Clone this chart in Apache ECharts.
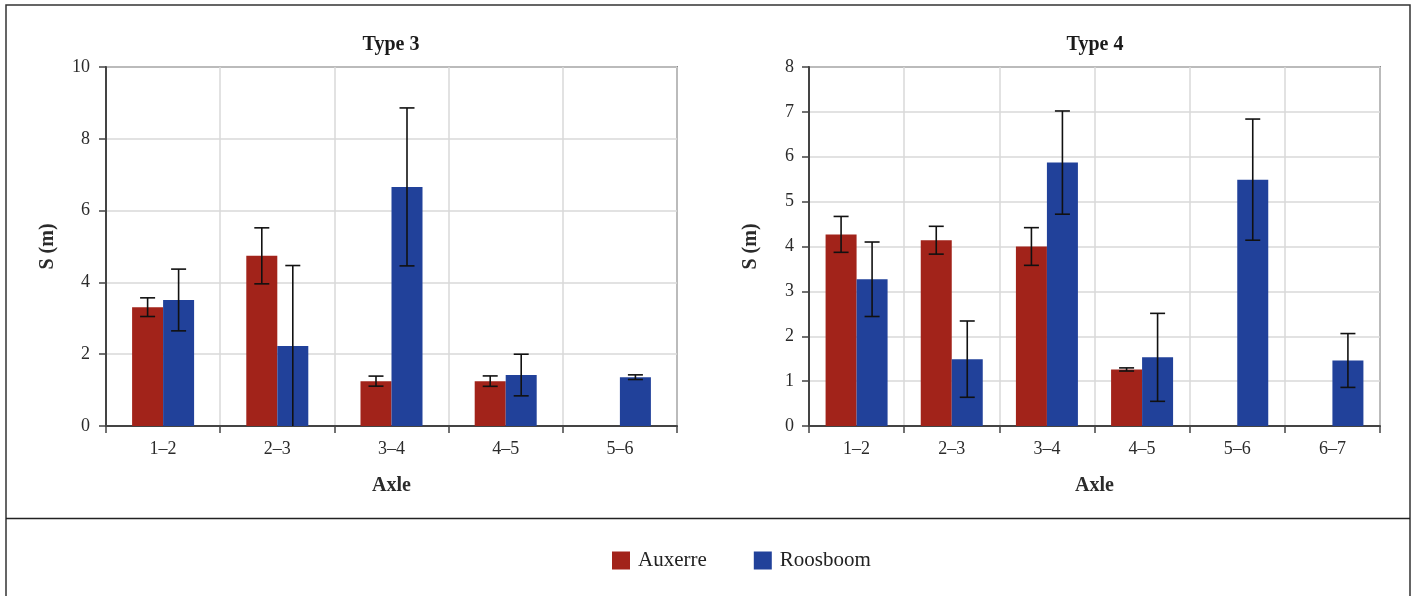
<!DOCTYPE html>
<html>
<head>
<meta charset="utf-8">
<title>Type 3 / Type 4 — S (m) by axle</title>
<script src="https://cdn.jsdelivr.net/npm/echarts@6/dist/echarts.min.js"></script>
<style>
  html, body { margin: 0; padding: 0; background: #ffffff; }
  #chart { width: 1416px; height: 596px; }
</style>
</head>
<body>
<div id="chart"></div>
<script>
// Axle spacing S (m), mean with ± error, per truck type
const categoriesType3 = ['1–2', '2–3', '3–4', '4–5', '5–6'];
const auxerreType3 = [3.31, 4.74, 1.25, 1.25, null];
const auxerreType3Err = [0.26, 0.78, 0.14, 0.145, null];
const roosboomType3 = [3.51, 2.23, 6.66, 1.42, 1.36];
const roosboomType3Err = [0.86, 2.24, 2.20, 0.58, 0.065];

const categoriesType4 = ['1–2', '2–3', '3–4', '4–5', '5–6', '6–7'];
const auxerreType4 = [4.27, 4.14, 4.00, 1.26, null, null];
const auxerreType4Err = [0.40, 0.31, 0.42, 0.035, null, null];
const roosboomType4 = [3.27, 1.49, 5.87, 1.53, 5.49, 1.46];
const roosboomType4Err = [0.83, 0.85, 1.15, 0.98, 1.35, 0.60];

const yTicksType3 = { min: 0, max: 10, interval: 2 };
const yTicksType4 = { min: 0, max: 8, interval: 1 };

const seriesNames = ['Auxerre', 'Roosboom'];
const RED = '#a2231a';
const BLUE = '#21419a';
const BAR_WIDTH = 31;
const FONT = '"Liberation Serif", "DejaVu Serif", serif';
const TEXT = '#2b2b2b';

// error-bar items: [categoryIndex, value, err, slot]
function errorData(values, errs, slot) {
  const out = [];
  values.forEach((v, i) => {
    if (v != null && errs[i] != null) out.push([i, v, errs[i], slot]);
  });
  return out;
}

// vertical whisker with caps; the lower cap is dropped when the range reaches the axis
function renderErrorBar(params, api) {
  const cat = api.value(0);
  const v = api.value(1);
  const e = api.value(2);
  const slot = api.value(3);
  const xc = api.coord([cat, 0])[0] + (slot === 0 ? -BAR_WIDTH / 2 : BAR_WIDTH / 2);
  const lowVal = Math.max(0, v - e);
  const yHi = api.coord([cat, v + e])[1];
  const yLo = api.coord([cat, lowVal])[1];
  const cap = 7.5;
  const style = { stroke: '#111', lineWidth: 1.6 };
  const children = [
    { type: 'line', shape: { x1: xc, y1: yHi, x2: xc, y2: yLo }, style },
    { type: 'line', shape: { x1: xc - cap, y1: yHi, x2: xc + cap, y2: yHi }, style }
  ];
  if (v - e > 0) {
    children.push({ type: 'line', shape: { x1: xc - cap, y1: yLo, x2: xc + cap, y2: yLo }, style });
  }
  return { type: 'group', children };
}

function xAxisFor(cats, gridIndex) {
  return {
    type: 'category',
    gridIndex,
    data: cats,
    name: 'Axle',
    nameLocation: 'middle',
    nameGap: 50,
    nameTextStyle: { fontFamily: FONT, fontSize: 20, fontWeight: 'bold', color: TEXT },
    axisLine: { show: true, lineStyle: { color: '#444', width: 2 } },
    axisTick: { show: true, length: 7, lineStyle: { color: '#444', width: 1.5 } },
    axisLabel: { margin: 14, fontFamily: FONT, fontSize: 18, color: TEXT },
    splitLine: { show: true, lineStyle: { color: '#d8d8d8', width: 1.5 } }
  };
}

function yAxisFor(ticks, gridIndex, nameGap, labelMargin) {
  return {
    type: 'value',
    gridIndex,
    min: ticks.min,
    max: ticks.max,
    interval: ticks.interval,
    name: 'S (m)',
    nameLocation: 'middle',
    nameGap,
    nameTextStyle: { fontFamily: FONT, fontSize: 20, fontWeight: 'bold', color: TEXT },
    axisLine: { show: true, lineStyle: { color: '#444', width: 2 } },
    axisTick: { show: true, length: 7, lineStyle: { color: '#444', width: 1.5 } },
    axisLabel: { margin: labelMargin, fontFamily: FONT, fontSize: 18, color: TEXT },
    splitLine: { show: true, lineStyle: { color: '#d8d8d8', width: 1.5 } }
  };
}

function barSeries(name, data, color, idx) {
  return {
    type: 'bar',
    name,
    xAxisIndex: idx,
    yAxisIndex: idx,
    data,
    barWidth: BAR_WIDTH,
    barGap: '0%',
    itemStyle: { color },
    z: 2
  };
}

function errSeries(name, data, idx) {
  return {
    type: 'custom',
    name,
    xAxisIndex: idx,
    yAxisIndex: idx,
    data,
    renderItem: renderErrorBar,
    z: 5,
    silent: true
  };
}

const chart = echarts.init(document.getElementById('chart'), null, { renderer: 'canvas' });

chart.setOption({
  animation: false,
  backgroundColor: '#ffffff',
  title: [
    { text: 'Type 3', left: 391, top: 35, padding: 0, textAlign: 'center',
      textStyle: { fontFamily: FONT, fontSize: 20, fontWeight: 'bold', color: '#1a1a1a' } },
    { text: 'Type 4', left: 1095, top: 35, padding: 0, textAlign: 'center',
      textStyle: { fontFamily: FONT, fontSize: 20, fontWeight: 'bold', color: '#1a1a1a' } }
  ],
  legend: {
    data: seriesNames,
    left: 612,
    top: 550,
    padding: 0,
    icon: 'rect',
    itemWidth: 18,
    itemHeight: 18,
    itemGap: 47,
    textStyle: { fontFamily: FONT, fontSize: 21, color: '#222', padding: [0, 0, 0, 3] },
    selectedMode: false
  },
  grid: [
    { left: 106, top: 67, width: 571, height: 359, show: true, borderColor: '#333', borderWidth: 1.5, backgroundColor: 'transparent' },
    { left: 809, top: 67, width: 571, height: 359, show: true, borderColor: '#333', borderWidth: 1.5, backgroundColor: 'transparent' }
  ],
  xAxis: [xAxisFor(categoriesType3, 0), xAxisFor(categoriesType4, 1)],
  yAxis: [yAxisFor(yTicksType3, 0, 48, 16), yAxisFor(yTicksType4, 1, 48, 15)],
  series: [
    barSeries(seriesNames[0], auxerreType3, RED, 0),
    barSeries(seriesNames[1], roosboomType3, BLUE, 0),
    errSeries('Auxerre error (Type 3)', errorData(auxerreType3, auxerreType3Err, 0), 0),
    errSeries('Roosboom error (Type 3)', errorData(roosboomType3, roosboomType3Err, 1), 0),
    barSeries(seriesNames[0], auxerreType4, RED, 1),
    barSeries(seriesNames[1], roosboomType4, BLUE, 1),
    errSeries('Auxerre error (Type 4)', errorData(auxerreType4, auxerreType4Err, 0), 1),
    errSeries('Roosboom error (Type 4)', errorData(roosboomType4, roosboomType4Err, 1), 1)
  ],
  graphic: [
    { type: 'rect', shape: { x: 6, y: 5, width: 1404, height: 620 },
      style: { fill: 'none', stroke: '#333', lineWidth: 1.5 }, silent: true },
    { type: 'line', shape: { x1: 6, y1: 518.5, x2: 1410, y2: 518.5 },
      style: { stroke: '#222', lineWidth: 1.5 }, silent: true }
  ]
});
</script>
</body>
</html>
